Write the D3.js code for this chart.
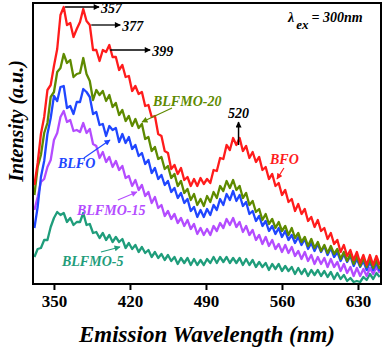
<!DOCTYPE html>
<html>
<head>
<meta charset="utf-8">
<script src="https://cdn.jsdelivr.net/npm/d3@7"></script>
<style>
  body { margin: 0; background: #fff; }
  svg { display: block; }
</style>
</head>
<body>
<script>
// emission wavelength grid (nm), one reading every 3 nm
var wavelengths = d3.range(332, 651, 3);

// PL intensity (a.u.)
var bfo = [99,121,150,167,194,199,218,235,269,277, 259,261,247,255,262,275,263,259,234,234,
    223,234,232,239,227,227,214,219,207,208, 193,198,190,192,178,179,167,168,150,148,
    133,131,115,119,110,116,104,107,98,105, 98,106,100,105,101,114,113,126,125,139,
    134,146,139,146,133,138,126,132,122,127, 114,117,105,110,98,101,89,94,82,85,
    73,80,70,75,63,67,57,64,53,56, 45,51,40,44,32,39,28,34,24,32, 21,29,19,29,19,28,19];
var blfmo20 = [89,117,129,151,161,187,192,212,216,230, 221,224,207,210,211,226,210,203,184,194,
    189,193,183,189,177,181,169,174,163,168, 158,165,156,160,145,147,133,137,125,127,
    115,118,106,110,98,103,91,95,84,90, 79,85,78,88,82,92,86,98,93,103,
    96,104,94,98,86,91,79,83,72,75, 64,70,60,65,56,62,53,58,49,56,
    46,51,42,47,38,45,36,42,33,39, 31,38,30,35,25,32,23,30,20,28, 18,26,17,25,16,24,15];
var blfo = [56,77,107,123,150,166,188,183,197,198, 176,178,170,182,182,195,192,187,170,172,
    159,160,148,158,154,156,142,150,141,147, 135,139,128,131,120,124,111,116,105,109,
    99,103,92,96,86,91,81,85,73,77, 67,74,67,75,69,79,74,85,79,90,
    84,93,83,89,78,82,70,73,63,68, 58,63,53,58,50,56,47,53,44,49,
    41,47,39,45,35,41,33,40,32,38, 29,36,27,32,23,30,22,28,18,25, 17,23,14,22,14,21,13];
var blfmo15 = [74,87,102,105,117,124,144,151,167,173, 162,164,153,154,152,161,151,155,140,138,
    126,132,122,127,117,123,114,118,106,108, 98,104,94,99,88,92,81,87,76,79,
    68,73,65,70,61,66,58,64,55,60, 50,56,49,55,49,58,53,61,56,65,
    59,66,57,62,52,58,49,54,44,49, 40,47,38,44,35,40,32,39,31,37,
    28,33,25,32,23,29,20,27,20,26, 17,25,17,22,13,20,11,17,8,16, 8,15,8,16,10,17,11];
var blfmo5 = [27,35,36,44,44,57,66,72,69,71, 62,66,59,62,62,71,59,60,51,52,
    46,51,44,49,42,47,42,45,36,41, 35,39,32,37,31,34,27,32,26,30,
    24,29,23,27,20,26,21,26,19,25, 19,24,19,25,21,27,21,27,22,27,
    21,26,21,26,19,25,19,24,17,22, 17,21,14,20,15,20,13,18,13,17,
    10,16,10,15,8,14,9,14,8,13, 7,12,5,11,5,9,3,6,2,3, 2,7,4,10,5,11,7];

var seriesNames = ["BLFMO-5", "BLFMO-15", "BLFO", "BLFMO-20", "BFO"];
var seriesValues = [blfmo5, blfmo15, blfo, blfmo20, bfo];
var seriesColors = ["#1f9d7b", "#b44cff", "#2046ff", "#5e8a00", "#ff1c1c"];

var xTicks = [350, 420, 490, 560, 630];

// peak markers
var peakLabels = ["357", "377", "399"];
var peakNm = [357, 377, 399];
var peakLevel = [277, 259, 234];

function init() {
    var w = 383;
    var h = 350;
    var margin = { top: 3, right: 2, bottom: 66, left: 33 };
    var font = "'Liberation Serif', 'Times New Roman', serif";

    var x = d3.scaleLinear().domain([330.7, 651.2]).range([margin.left, w - margin.right]);
    var y = d3.scaleLinear().domain([0, 281]).range([h - margin.bottom, margin.top]);

    var svg = d3.select("body").append("svg").attr("width", w).attr("height", h);
    var defs = svg.append("defs");

    defs.append("clipPath").attr("id", "plotclip")
        .append("rect")
        .attr("x", margin.left).attr("y", margin.top)
        .attr("width", w - margin.left - margin.right)
        .attr("height", h - margin.top - margin.bottom);

    function marker(id, color) {
        defs.append("marker")
            .attr("id", id)
            .attr("viewBox", "0 0 10 10")
            .attr("refX", 9).attr("refY", 5)
            .attr("markerUnits", "userSpaceOnUse")
            .attr("markerWidth", 7).attr("markerHeight", 6)
            .attr("orient", "auto")
            .append("path").attr("d", "M0,0L10,5L0,10z").attr("fill", color);
    }
    marker("ah-black", "#000");
    seriesColors.forEach(function (c, i) { marker("ah-" + i, c); });

    // spectra
    var line = d3.line()
        .x(function (d, i) { return x(wavelengths[i]); })
        .y(function (d) { return y(d); });

    svg.append("g").attr("clip-path", "url(#plotclip)")
        .selectAll("path")
        .data(seriesValues)
        .enter()
        .append("path")
        .attr("d", line)
        .attr("fill", "none")
        .attr("stroke", function (d, i) { return seriesColors[i]; })
        .attr("stroke-width", 2.3)
        .attr("stroke-linejoin", "round");

    // frame
    svg.append("rect")
        .attr("x", margin.left).attr("y", margin.top)
        .attr("width", w - margin.left - margin.right)
        .attr("height", h - margin.top - margin.bottom)
        .attr("fill", "none").attr("stroke", "#000").attr("stroke-width", 2);

    // x axis
    var xAxis = svg.append("g")
        .attr("transform", "translate(0," + (h - margin.bottom) + ")")
        .call(d3.axisBottom(x).tickValues(xTicks).tickSize(6).tickPadding(5));
    xAxis.select(".domain").remove();
    xAxis.selectAll(".tick line").attr("stroke", "#000").attr("stroke-width", 2);
    xAxis.selectAll(".tick text")
        .style("font-family", font).style("font-size", "17px").style("font-weight", "bold")
        .attr("fill", "#000");

    svg.append("text")
        .attr("x", (margin.left + w - margin.right) / 2)
        .attr("y", 342)
        .attr("text-anchor", "middle")
        .style("font-family", font).style("font-size", "23px")
        .style("font-weight", "bold").style("font-style", "italic")
        .text("Emission Wavelength (nm)");

    svg.append("text")
        .attr("transform", "translate(23,121) rotate(-90)")
        .attr("text-anchor", "middle")
        .style("font-family", font).style("font-size", "20px")
        .style("font-weight", "bold").style("font-style", "italic")
        .text("Intensity (a.u.)");

    var ann = svg.append("g")
        .style("font-family", font).style("font-weight", "bold").style("font-style", "italic")
        .style("font-size", "14px");

    // peak arrows 357 / 377 / 399
    var arrowStart = [3.5, 8, 3];
    var arrowLen = [34, 29, 40];
    peakLabels.forEach(function (lab, i) {
        var x0 = x(peakNm[i]) + arrowStart[i];
        var y0 = y(peakLevel[i]);
        ann.append("line")
            .attr("x1", x0).attr("y1", y0)
            .attr("x2", x0 + arrowLen[i]).attr("y2", y0)
            .attr("stroke", "#000").attr("stroke-width", 1.3)
            .attr("marker-end", "url(#ah-black)");
        ann.append("text")
            .attr("x", x0 + arrowLen[i] + 2).attr("y", y0 + 6)
            .text(lab);
    });

    // 520 peak
    ann.append("line")
        .attr("x1", x(520)).attr("y1", y(139))
        .attr("x2", x(520)).attr("y2", y(162))
        .attr("stroke", "#000").attr("stroke-width", 1.5)
        .attr("marker-end", "url(#ah-black)");
    ann.append("text")
        .attr("x", x(520)).attr("y", y(166))
        .attr("text-anchor", "middle")
        .text("520");

    // excitation wavelength
    var ex = ann.append("text").attr("x", x(565.5)).attr("y", y(262));
    ex.append("tspan").text("\u03bb");
    ex.append("tspan").attr("dy", 7).attr("dx", 2).style("font-size", "13px").text("ex");
    ex.append("tspan").attr("dy", -7).attr("dx", 3).text("= 300nm");

    // sample labels with pointer arrows (nm, intensity)
    var labelPos = [[357.4, 18], [371.2, 69], [353.7, 116], [441.2, 178], [549, 120]];
    var pointerFrom = [[393.3, 32], [408.9, 84], [377.6, 126], [458.7, 176], [561.8, 116]];
    var pointerTo = [[410.8, 37], [426.4, 92], [401.6, 144], [431.1, 162], [555.4, 105]];

    seriesNames.forEach(function (name, i) {
        ann.append("text")
            .attr("x", x(labelPos[i][0])).attr("y", y(labelPos[i][1]))
            .attr("fill", seriesColors[i])
            .text(name);
        ann.append("line")
            .attr("x1", x(pointerFrom[i][0])).attr("y1", y(pointerFrom[i][1]))
            .attr("x2", x(pointerTo[i][0])).attr("y2", y(pointerTo[i][1]))
            .attr("stroke", seriesColors[i]).attr("stroke-width", 1.2)
            .attr("marker-end", "url(#ah-" + i + ")");
    });
}

window.onload = init;
</script>
</body>
</html>
